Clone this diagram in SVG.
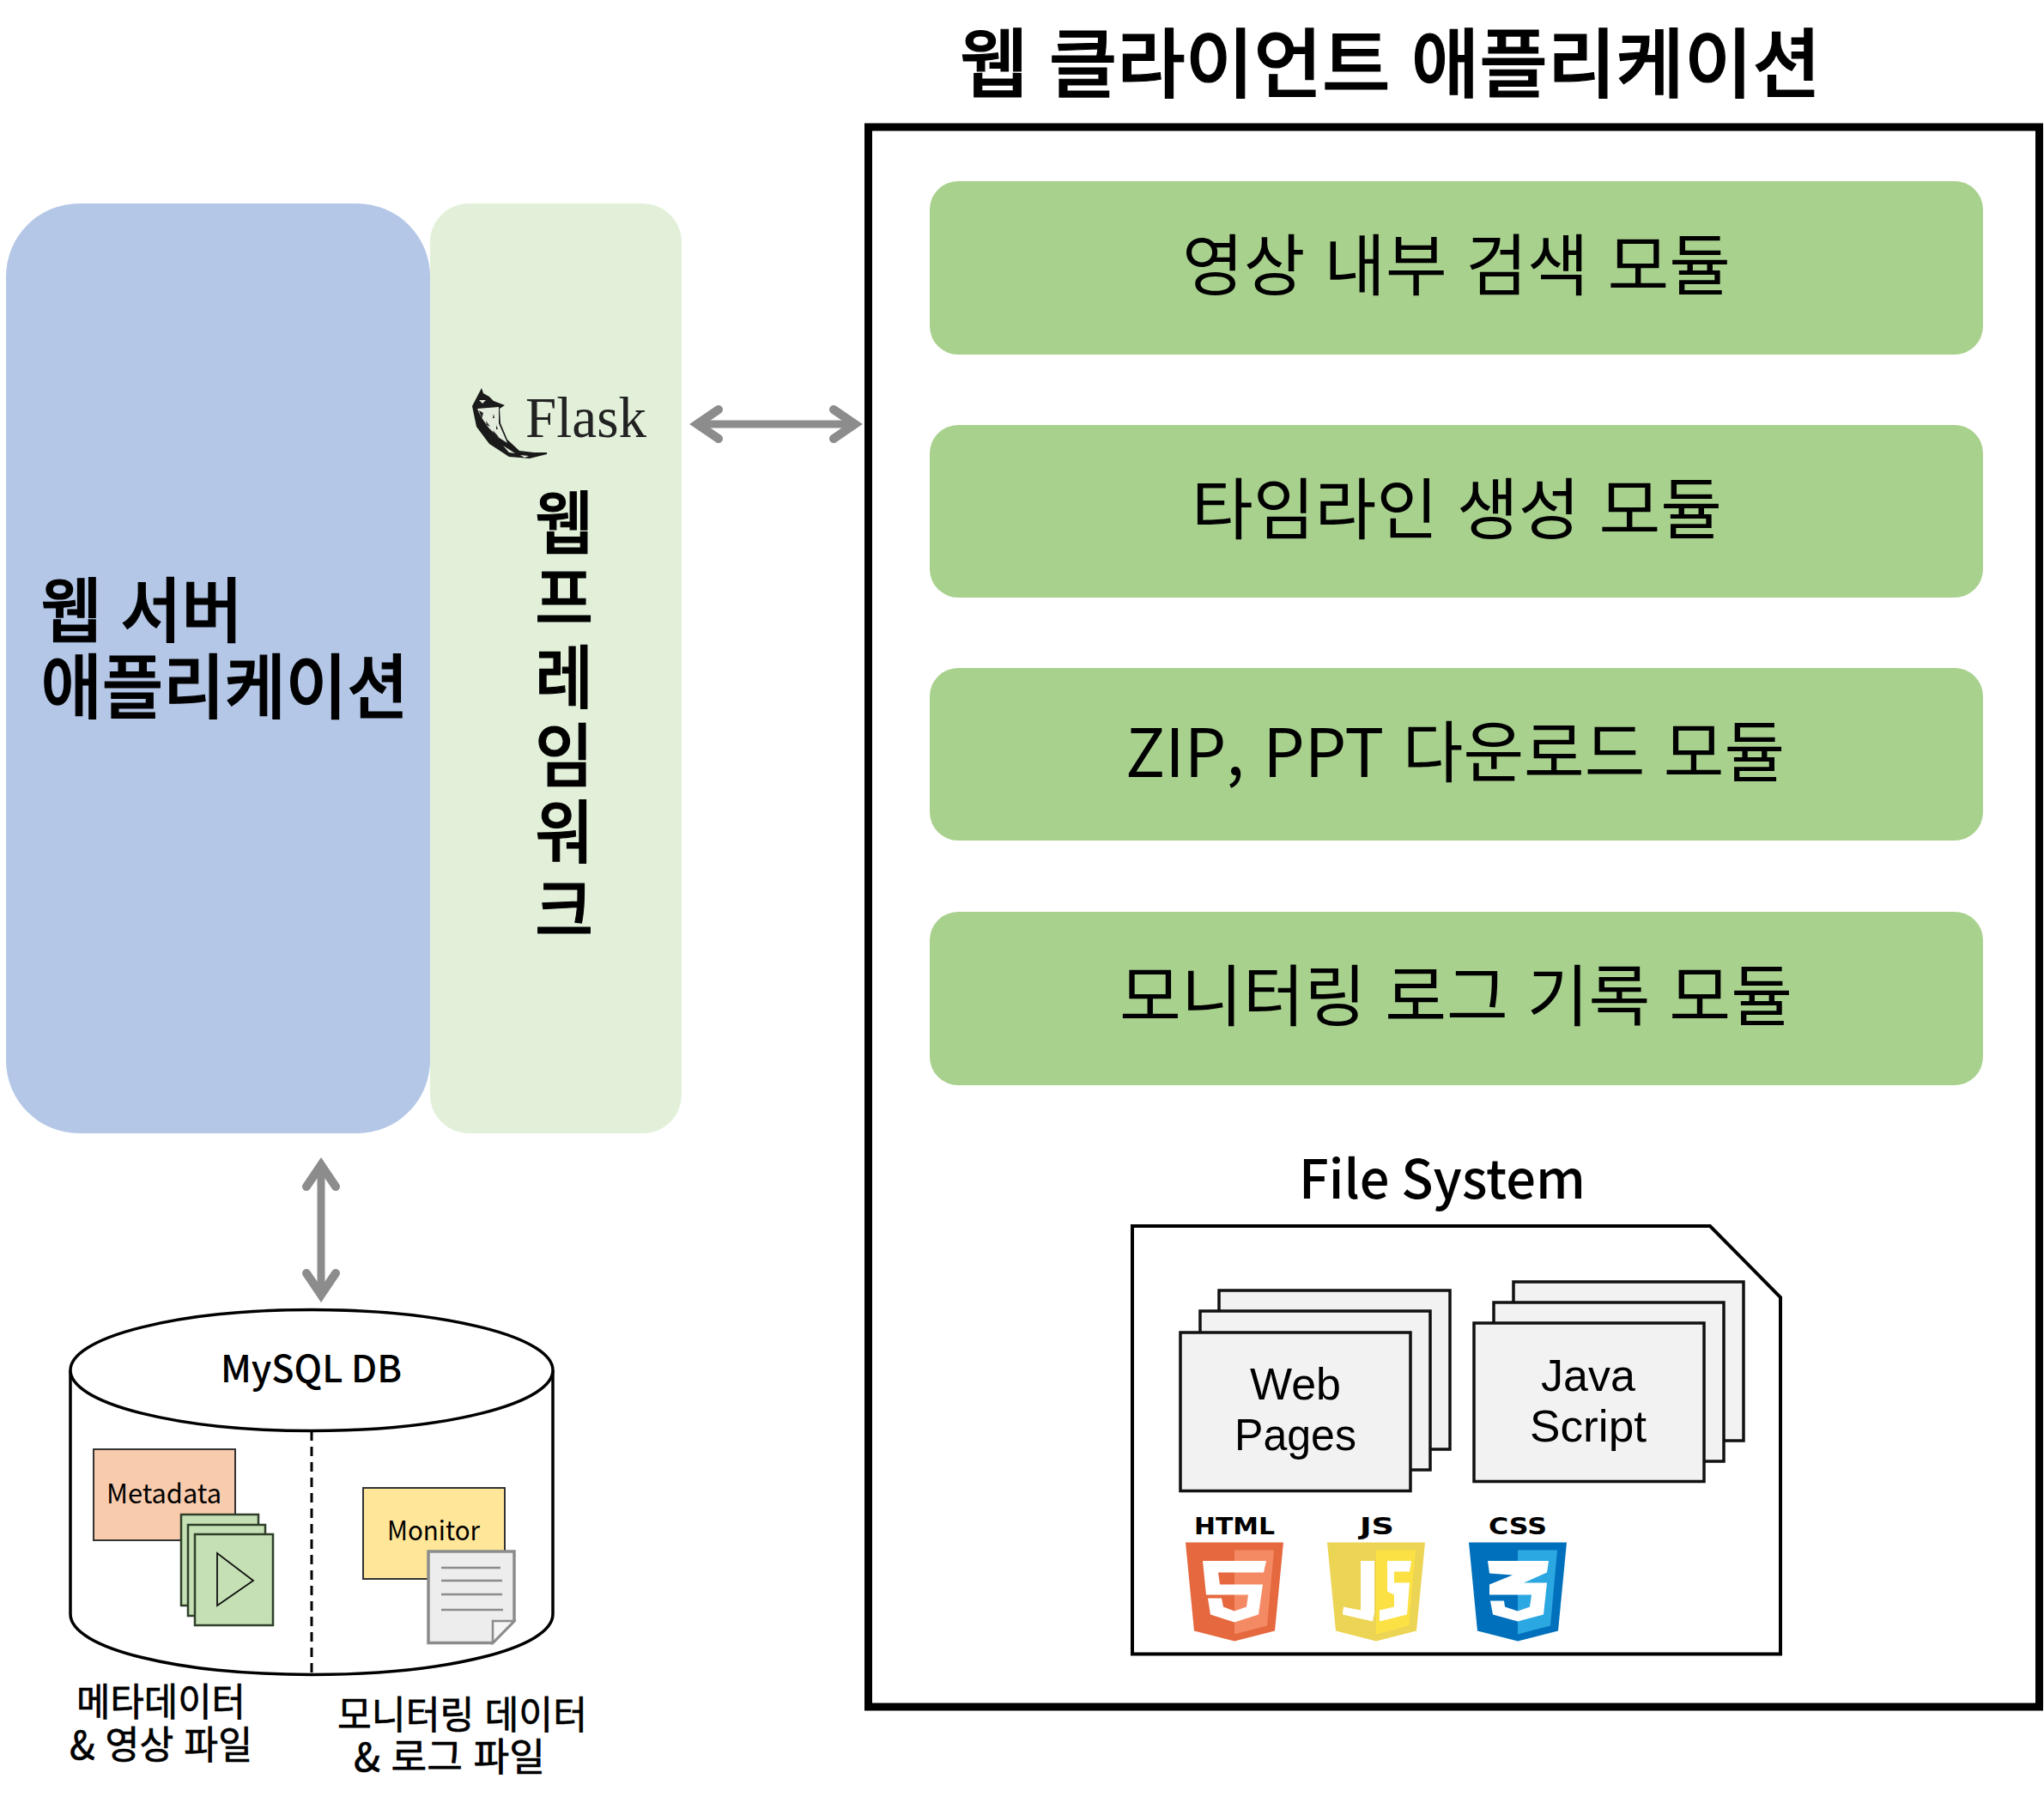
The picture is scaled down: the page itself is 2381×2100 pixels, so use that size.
<svg xmlns="http://www.w3.org/2000/svg" width="2381" height="2100" viewBox="0 0 2381 2100">
<style>
text{font-family:"Noto Sans CJK KR","Noto Sans",sans-serif;fill:#000}
.b{font-weight:500;stroke:#000;stroke-width:1.2}
.mod{font-size:78px}
.lat{font-family:"Liberation Sans",Arial,sans-serif;font-size:52px;text-anchor:middle}
.cap{font-size:45px;stroke:#000;stroke-width:.7}
.page{fill:#F2F2F2;stroke:#111;stroke-width:3.5}
.vid{fill:#C5E0B4;stroke:#2F3F2A;stroke-width:2.5}
.green{fill:#A9D18E}
.badge{font-family:"DejaVu Sans",sans-serif;font-weight:700;font-size:26px}
.conn{fill:none;stroke:#8C8C8C;stroke-width:9;marker-start:url(#ah);marker-end:url(#ah)}
.rule{stroke:#8C8C8C;stroke-width:2.5}
</style>
<defs>
<marker id="ah" markerUnits="userSpaceOnUse" markerWidth="60" markerHeight="60" refX="40" refY="30" orient="auto-start-reverse" viewBox="0 0 60 60">
<path d="M15 13L40 30L15 47" fill="none" stroke="#8C8C8C" stroke-width="10" stroke-linecap="round" stroke-linejoin="miter"/>
</marker>
<path id="shield" d="M-57 0H57L47 103L0 115L-47 103Z"/>
<path id="shieldR" d="M0 9H46L38 97L0 107Z"/>
</defs>
<rect width="2381" height="2100" fill="#fff"/>

<g id="web-server">
<rect x="7" y="237" width="494" height="1083" rx="85" fill="#B4C7E7"/>
<text class="b" lang="ko" font-size="82" x="47.500" y="741" textLength="235" lengthAdjust="spacingAndGlyphs">웹 서버</text>
<text class="b" lang="ko" font-size="82" x="47.500" y="830" textLength="428" lengthAdjust="spacingAndGlyphs">애플리케이션</text>
</g>

<g id="flask-framework">
<rect x="501" y="237" width="293" height="1083" rx="45" fill="#E2F0D9"/>
<path d="M561 452L563 458L570 462L575 467L588 472L582 476L583 493L591 512L605 525L622 527L637 527L637 529L617 534L593 532L570 517L555 497L550 473Z" fill="#1A1A1A"/>
<path d="M556 476L581 474L581 493L591 516L580 509L569 498L560 485Z" fill="#E4ECDD"/>
<path d="M558 478L563 481L561 488ZM566 490L571 497L567 495ZM575 482L576 487L574 487ZM574 501L581 509L576 508ZM578 495L580 500L578 500Z" fill="#222"/>
<path d="M586 519L600 528L593 527ZM606 530L616 531L611 533ZM558 466L566 466L562 470Z" fill="#E4ECDD"/>
<text x="612" y="509" font-size="68" textLength="141" lengthAdjust="spacingAndGlyphs" style="font-family:'Liberation Serif',serif;fill:#222">Flask</text>
<g transform="translate(657 0) scale(.92 1)">
<text class="b" lang="ko" font-size="80" text-anchor="middle" x="0 0 0 0 0 0" y="638 726 818 909 998 1089">웹프레임워크</text>
</g>
</g>

<g id="connectors">
<path class="conn" d="M812 494H996"/>
<path class="conn" d="M374 1357V1508"/>
</g>

<g id="web-client">
<text class="b" lang="ko" font-size="88" x="1118" y="106" textLength="1003" lengthAdjust="spacingAndGlyphs">웹 클라이언트 애플리케이션</text>
<rect x="1011.500" y="148" width="1364" height="1840" fill="none" stroke="#000" stroke-width="9"/>
</g>

<g id="module-search">
<rect class="green" x="1083" y="211" width="1227" height="202" rx="33"/>
<text class="mod" lang="ko" x="1377" y="338" textLength="639" lengthAdjust="spacingAndGlyphs">영상 내부 검색 모듈</text>
</g>
<g id="module-timeline">
<rect class="green" x="1083" y="495" width="1227" height="201" rx="33"/>
<text class="mod" lang="ko" x="1388" y="622" textLength="618" lengthAdjust="spacingAndGlyphs">타임라인 생성 모듈</text>
</g>
<g id="module-download">
<rect class="green" x="1083" y="778" width="1227" height="201" rx="33"/>
<text class="mod" lang="ko" x="1311" y="905" textLength="768" lengthAdjust="spacingAndGlyphs">ZIP, PPT 다운로드 모듈</text>
</g>
<g id="module-monitor">
<rect class="green" x="1083" y="1062" width="1227" height="202" rx="33"/>
<text class="mod" lang="ko" x="1304" y="1189" textLength="784" lengthAdjust="spacingAndGlyphs">모니터링 로그 기록 모듈</text>
</g>

<g id="file-system">
<text font-size="62" x="1513" y="1396" textLength="334" lengthAdjust="spacingAndGlyphs" style="font-weight:500">File System</text>
<path d="M1319 1428H1992L2074 1511V1926.500H1319Z" fill="#fff" stroke="#000" stroke-width="4"/>
<rect class="page" x="1420" y="1503" width="269" height="185"/>
<rect class="page" x="1398" y="1527" width="268" height="185"/>
<rect class="page" x="1375" y="1552" width="268" height="184.500"/>
<text class="lat" x="1509" y="1630">Web</text>
<text class="lat" x="1509" y="1689" textLength="142" lengthAdjust="spacingAndGlyphs">Pages</text>
<rect class="page" x="1763" y="1493" width="268" height="185"/>
<rect class="page" x="1740" y="1517" width="268" height="185"/>
<rect class="page" x="1717" y="1541" width="268" height="184.500"/>
<text class="lat" x="1850" y="1620">Java</text>
<text class="lat" x="1850" y="1679" textLength="136" lengthAdjust="spacingAndGlyphs">Script</text>

<text class="badge" x="1391" y="1787" textLength="94" lengthAdjust="spacingAndGlyphs">HTML</text>
<g transform="translate(1438 1796.500)">
<use href="#shield" fill="#E5683F"/><use href="#shieldR" fill="#F48A63"/>
<path d="M-37 21.500H37L34 35H-19L-17 49H33L28 84L0 93L-28 84L-31 65H-15L-13 75L0 80L14 75L16 61H-33Z" fill="#fff"/>
</g>
<text class="badge" x="1584" y="1787" textLength="40" lengthAdjust="spacingAndGlyphs">JS</text>
<g transform="translate(1603 1796.500)">
<use href="#shield" fill="#ECD454"/><use href="#shieldR" fill="#FCE145"/>
<path d="M-18 21.500H-2V82L-4 92L-39 84L-38 75L-18 79ZM13 21.500H41L39 34H21V47H39L36 84L4 92V79L21 75V61L13 57Z" fill="#fff"/>
</g>
<text class="badge" x="1734" y="1787" textLength="68" lengthAdjust="spacingAndGlyphs">CSS</text>
<g transform="translate(1768 1796.500)">
<use href="#shield" fill="#0070BC"/><use href="#shieldR" fill="#2BA7E1"/>
<path d="M-35 21.500H36L34 35L7 47H34L30 84L0 92L-29 84L-32 68H-16L-15 75L0 80L14 75L16 61H-33V49L-6 38L-33 36Z" fill="#fff"/>
</g>
</g>

<g id="mysql-db">
<path d="M82 1596V1880C82 1920 208 1950.500 363 1950.500C518 1950.500 644 1920 644 1880V1596" fill="#fff" stroke="#000" stroke-width="3.500"/>
<ellipse cx="363" cy="1596" rx="281" ry="70.500" fill="#fff" stroke="#000" stroke-width="3.500"/>
<text font-size="43" x="257" y="1610" textLength="211" lengthAdjust="spacingAndGlyphs" style="font-weight:500">MySQL DB</text>
<path d="M363 1667V1950" stroke="#000" stroke-width="3" stroke-dasharray="11 7" fill="none"/>
</g>

<g id="metadata">
<rect x="109" y="1688" width="165" height="106" fill="#F8CBAD" stroke="#333" stroke-width="2"/>
<text font-size="31" x="124" y="1751" textLength="134" lengthAdjust="spacingAndGlyphs">Metadata</text>
<rect class="vid" x="211" y="1764" width="90" height="106"/>
<rect class="vid" x="219" y="1776" width="90" height="106"/>
<rect class="vid" x="227" y="1787" width="91" height="106"/>
<path d="M253 1809L295 1841L253 1870Z" fill="none" stroke="#111" stroke-width="1.800"/>
<text class="cap" lang="ko" x="89" y="1999" textLength="197" lengthAdjust="spacingAndGlyphs">메타데이터</text>
<text class="cap" lang="ko" x="81" y="2049" textLength="213" lengthAdjust="spacingAndGlyphs">&amp; 영상 파일</text>
</g>

<g id="monitor">
<rect x="423" y="1733" width="165" height="106" fill="#FFE699" stroke="#333" stroke-width="2"/>
<text font-size="31" x="451" y="1794" textLength="108" lengthAdjust="spacingAndGlyphs">Monitor</text>
<path d="M499 1807H599V1888L574 1913.500H499Z" fill="#EDEDED" stroke="#8C8C8C" stroke-width="3.500"/>
<path d="M574 1913.500V1888H599Z" fill="#F5F5F5" stroke="#8C8C8C" stroke-width="2.500"/>
<path class="rule" d="M514 1826H583M514 1841H585M514 1857H585M514 1875H586"/>
<text class="cap" lang="ko" x="393" y="2014" textLength="291" lengthAdjust="spacingAndGlyphs">모니터링 데이터</text>
<text class="cap" lang="ko" x="412" y="2063" textLength="223" lengthAdjust="spacingAndGlyphs">&amp; 로그 파일</text>
</g>
</svg>
